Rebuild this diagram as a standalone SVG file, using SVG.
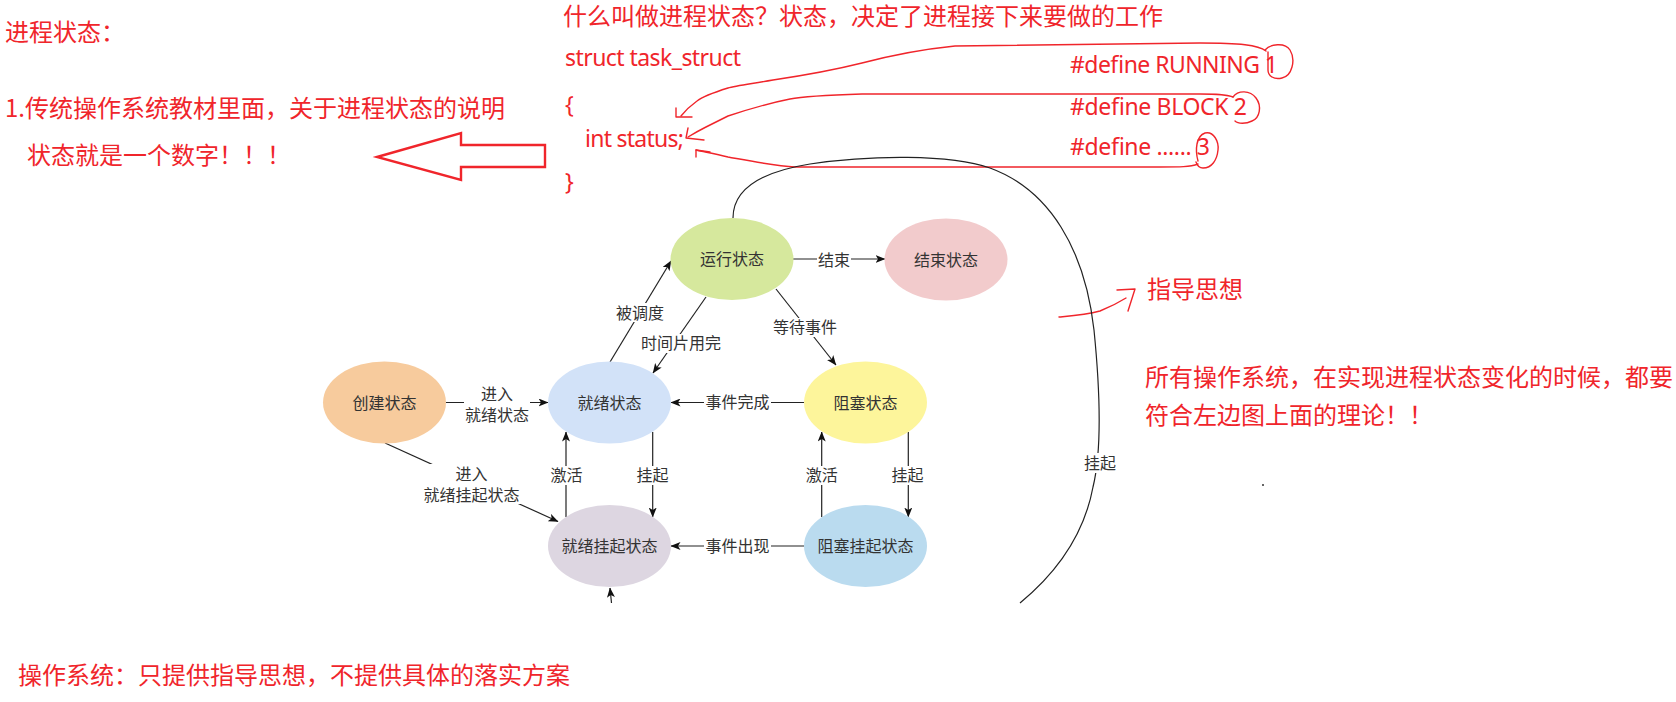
<svg xmlns="http://www.w3.org/2000/svg" width="1676" height="702" viewBox="0 0 1676 702">
<style>
.red{font-family:"Noto Sans CJK SC","Liberation Sans",sans-serif;font-size:24px;fill:#f0252b}
.lat{font-family:"Noto Sans","Noto Sans CJK SC",sans-serif;font-size:23px;fill:#f0252b}
.nt{font-family:"Noto Sans CJK SC",sans-serif;font-size:16px;fill:#333;text-anchor:middle}
.lb{font-family:"Noto Sans CJK SC",sans-serif;font-size:16px;fill:#333;text-anchor:middle}
.rs{fill:none;stroke:#f0252b;stroke-width:1.4;stroke-linecap:round;stroke-linejoin:round}
.edge{fill:none;stroke:#222;stroke-width:1.2}
.bg{fill:#fff}
</style>
<defs>
<marker id="ah" markerWidth="10" markerHeight="8" refX="9.5" refY="4" orient="auto" markerUnits="userSpaceOnUse">
<path d="M0,0 L10,4 L0,8 L2.5,4 Z" fill="#111"/>
</marker>
</defs>
<rect width="1676" height="702" fill="#fff"/>

<g id="annotations">
<text class="red" x="5" y="41">进程状态：</text>
<text class="red" x="5" y="116.5">1.传统操作系统教材里面，关于进程状态的说明</text>
<text class="red" x="27" y="164">状态就是一个数字！！！</text>
<polygon points="377,157 461,133 461,145 545,145 545,167 461,167 461,180" fill="none" stroke="#f0252b" stroke-width="2.4"/>
<text class="red" x="563" y="25">什么叫做进程状态？状态，决定了进程接下来要做的工作</text>
<text class="lat" x="565" y="66" textLength="176" lengthAdjust="spacing">struct task_struct</text>
<text class="lat" x="565" y="113">{</text>
<text class="lat" x="585" y="146.5" textLength="99" lengthAdjust="spacing">int status;</text>
<text class="lat" x="565" y="190">}</text>
<text class="lat" x="1070" y="73" textLength="208" lengthAdjust="spacing">#define RUNNING 1</text>
<text class="lat" x="1070" y="115" textLength="177" lengthAdjust="spacing">#define BLOCK 2</text>
<text class="lat" x="1070" y="155" textLength="140" lengthAdjust="spacing">#define ...... 3</text>
<path class="rs" d="M1266,51 C1258,45 1240,43 1200,43 L955,46 C915,50 885,57 862,63 C830,71 800,76 773,80 C750,84 735,86 728,88 C712,93 702,97 697,101 C690,106 685,111 681,116"/>
<path class="rs" d="M676,108 L676,117 L692,117"/>
<path class="rs" d="M1265,50 C1270,44 1285,42 1290,50 C1296,60 1292,76 1282,78 C1274,80 1268,76 1268,70 L1268,52"/>
<path class="rs" d="M1233,97 C1226,94 1215,94 1200,94 L862,94 C830,95 805,96 790,99 C765,104 740,112 728,116 C718,121 712,124 706,127 C698,131 693,134 688,137"/>
<path class="rs" d="M688,128 L686,138 L704,140"/>
<path class="rs" d="M1233,97 C1238,90 1250,90 1256,98 C1262,106 1260,118 1252,121 C1246,124 1238,124 1235,121"/>
<path class="rs" d="M1198,161 C1195,150 1196,136 1205,133 C1214,131 1219,142 1218,150 C1217,160 1212,168 1203,168 C1199,168 1197,165 1196,162"/>
<path class="rs" d="M1198,164 C1190,167 1180,167 1160,167 L795,167 C775,166 750,161 728,157 C715,154 705,152 696,150"/>
<path class="rs" d="M696,157 L696,150 L710,152"/>
<text class="red" x="1147" y="298">指导思想</text>
<path class="rs" d="M1059,317 C1070,316 1085,315 1100,311 C1110,307 1118,303 1126,298"/>
<path class="rs" d="M1117,290 L1135,289 L1128,311"/>
<text class="red" x="1145" y="386">所有操作系统，在实现进程状态变化的时候，都要</text>
<text class="red" x="1145" y="424">符合左边图上面的理论！！</text>
<text class="red" x="18" y="684">操作系统：只提供指导思想，不提供具体的落实方案</text>
<circle cx="1263" cy="485" r="1" fill="#333"/>
</g>

<g id="connectors">
<path class="edge" d="M733,218 C733,190 760,172 810,164 C870,155 950,154 990,168 C1050,190 1085,250 1094,330 C1100,390 1102,450 1093,487 C1085,530 1060,570 1020,603"/>
<rect class="bg" x="1083" y="453" width="34" height="20"/>
<text class="lb" x="1100" y="469">挂起</text>
<line class="edge" x1="611.5" y1="603" x2="610" y2="588" marker-end="url(#ah)"/>

<line class="edge" x1="610" y1="362" x2="671" y2="261" marker-end="url(#ah)"/>
<rect class="bg" x="615" y="303" width="50" height="19"/>
<text class="lb" x="640" y="319">被调度</text>

<line class="edge" x1="706" y1="297" x2="653" y2="373" marker-end="url(#ah)"/>
<rect class="bg" x="640" y="334" width="83" height="19"/>
<text class="lb" x="681" y="349">时间片用完</text>

<line class="edge" x1="793" y1="259" x2="885" y2="259" marker-end="url(#ah)"/>
<rect class="bg" x="817" y="251" width="34" height="18"/>
<text class="lb" x="834" y="266">结束</text>

<line class="edge" x1="776" y1="289" x2="836" y2="365" marker-end="url(#ah)"/>
<rect class="bg" x="772" y="318" width="66" height="19"/>
<text class="lb" x="805" y="333">等待事件</text>

<line class="edge" x1="446" y1="402.5" x2="548" y2="402.5" marker-end="url(#ah)"/>
<rect class="bg" x="464" y="385" width="66" height="40"/>
<text class="lb" x="497" y="400">进入<tspan x="497" dy="21">就绪状态</tspan></text>

<line class="edge" x1="804" y1="402.5" x2="671" y2="402.5" marker-end="url(#ah)"/>
<rect class="bg" x="704" y="393" width="67" height="18"/>
<text class="lb" x="737.5" y="408">事件完成</text>

<line class="edge" x1="566" y1="517" x2="566" y2="432" marker-end="url(#ah)"/>
<rect class="bg" x="550" y="466" width="33" height="19"/>
<text class="lb" x="566.5" y="481">激活</text>

<line class="edge" x1="652.7" y1="432" x2="652.7" y2="517" marker-end="url(#ah)"/>
<rect class="bg" x="636" y="466" width="33" height="19"/>
<text class="lb" x="652.5" y="481">挂起</text>

<line class="edge" x1="385" y1="443" x2="558" y2="521.5" marker-end="url(#ah)"/>
<rect class="bg" x="421" y="464" width="101" height="40"/>
<text class="lb" x="471.5" y="480">进入<tspan x="471.5" dy="21">就绪挂起状态</tspan></text>

<line class="edge" x1="804" y1="546" x2="671" y2="546" marker-end="url(#ah)"/>
<rect class="bg" x="704" y="537" width="67" height="18"/>
<text class="lb" x="737.5" y="552">事件出现</text>

<line class="edge" x1="821.7" y1="517" x2="821.7" y2="432" marker-end="url(#ah)"/>
<rect class="bg" x="805" y="466" width="33" height="19"/>
<text class="lb" x="821.7" y="481">激活</text>

<line class="edge" x1="908.3" y1="432" x2="908.3" y2="517" marker-end="url(#ah)"/>
<rect class="bg" x="891" y="466" width="33" height="19"/>
<text class="lb" x="907.5" y="481">挂起</text>
</g>

<g id="node-running">
<ellipse cx="732" cy="259" rx="61.5" ry="41" fill="#d6e89d"/>
<text class="nt" x="732" y="265">运行状态</text>
</g>
<g id="node-terminated">
<ellipse cx="946" cy="259.5" rx="61.5" ry="41" fill="#f2cbcc"/>
<text class="nt" x="946" y="265.5">结束状态</text>
</g>
<g id="node-created">
<ellipse cx="384.5" cy="402.5" rx="61.5" ry="41" fill="#f7cb9d"/>
<text class="nt" x="384.5" y="408.5">创建状态</text>
</g>
<g id="node-ready">
<ellipse cx="609.5" cy="402.5" rx="61.5" ry="41" fill="#d2e2f8"/>
<text class="nt" x="609.5" y="408.5">就绪状态</text>
</g>
<g id="node-blocked">
<ellipse cx="865.5" cy="402.5" rx="61.5" ry="41" fill="#fdf59b"/>
<text class="nt" x="865.5" y="408.5">阻塞状态</text>
</g>
<g id="node-ready-suspended">
<ellipse cx="609.5" cy="546" rx="61.5" ry="41" fill="#ddd6e1"/>
<text class="nt" x="609.5" y="552">就绪挂起状态</text>
</g>
<g id="node-blocked-suspended">
<ellipse cx="865.5" cy="546" rx="61.5" ry="41" fill="#badbef"/>
<text class="nt" x="865.5" y="552">阻塞挂起状态</text>
</g>
</svg>
